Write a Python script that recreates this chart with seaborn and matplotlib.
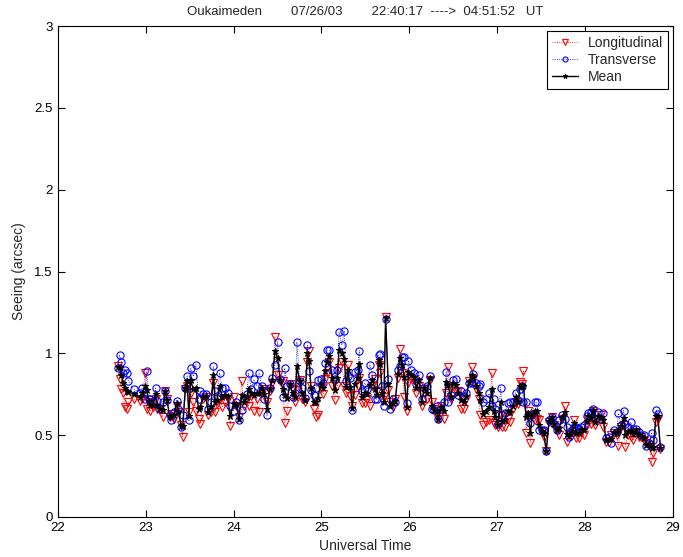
import numpy as np
import pandas as pd
import matplotlib
matplotlib.use("Agg")
import matplotlib.pyplot as plt
import seaborn as sns

# Universal time (hours, >24 = after midnight)
times = [22.68, 22.70, 22.72, 22.74, 22.76, 22.78, 22.80, 22.86, 22.93, 22.96,
         22.99, 23.01, 23.03, 23.05, 23.08, 23.11, 23.13, 23.16, 23.19, 23.22,
         23.24, 23.27, 23.29, 23.32, 23.35, 23.37, 23.40, 23.42, 23.45, 23.47,
         23.49, 23.51, 23.54, 23.57, 23.60, 23.62, 23.65, 23.68, 23.71, 23.74,
         23.77, 23.79, 23.81, 23.84, 23.87, 23.90, 23.93, 23.96, 24.00, 24.03,
         24.06, 24.09, 24.12, 24.15, 24.17, 24.20, 24.23, 24.26, 24.29, 24.32,
         24.35, 24.38, 24.41, 24.44, 24.47, 24.50, 24.53, 24.56, 24.58, 24.61,
         24.64, 24.67, 24.70, 24.72, 24.75, 24.78, 24.81, 24.84, 24.86, 24.88,
         24.91, 24.94, 24.96, 24.99, 25.02, 25.04, 25.06, 25.09, 25.12, 25.15,
         25.18, 25.20, 25.23, 25.26, 25.28, 25.30, 25.33, 25.35, 25.38, 25.41,
         25.43, 25.46, 25.49, 25.52, 25.55, 25.58, 25.61, 25.63, 25.65, 25.67,
         25.69, 25.71, 25.73, 25.76, 25.78, 25.81, 25.84, 25.87, 25.89, 25.92,
         25.94, 25.97, 25.99, 26.02, 26.05, 26.08, 26.11, 26.14, 26.17, 26.20,
         26.23, 26.26, 26.28, 26.31, 26.33, 26.36, 26.39, 26.42, 26.44, 26.47,
         26.50, 26.53, 26.56, 26.59, 26.62, 26.65, 26.68, 26.71, 26.73, 26.76,
         26.79, 26.81, 26.84, 26.87, 26.91, 26.94, 26.96, 26.98, 27.01, 27.04,
         27.06, 27.09, 27.12, 27.15, 27.18, 27.21, 27.24, 27.26, 27.28, 27.30,
         27.33, 27.35, 27.38, 27.40, 27.43, 27.45, 27.48, 27.51, 27.53, 27.56,
         27.59, 27.62, 27.65, 27.68, 27.71, 27.74, 27.77, 27.80, 27.82, 27.85,
         27.88, 27.90, 27.93, 27.96, 27.99, 28.02, 28.04, 28.07, 28.09, 28.12,
         28.15, 28.18, 28.21, 28.24, 28.27, 28.30, 28.33, 28.36, 28.38, 28.41,
         28.44, 28.46, 28.49, 28.52, 28.55, 28.58, 28.61, 28.64, 28.67, 28.70,
         28.73, 28.76, 28.78, 28.81, 28.83, 28.86]

longitudinal = [0.92, 0.84, 0.78, 0.76, 0.67, 0.66, 0.70, 0.72, 0.71, 0.72,
                0.88, 0.66, 0.70, 0.65, 0.67, 0.72, 0.66, 0.66, 0.61, 0.77,
                0.72, 0.61, 0.63, 0.60, 0.68, 0.64, 0.56, 0.49, 0.78, 0.80,
                0.64, 0.76, 0.70, 0.65, 0.60, 0.57, 0.72, 0.73, 0.62, 0.64,
                0.82, 0.64, 0.69, 0.72, 0.67, 0.70, 0.72, 0.556, 0.73, 0.68,
                0.61, 0.83, 0.68, 0.72, 0.68, 0.74, 0.65, 0.72, 0.64, 0.77,
                0.78, 0.70, 0.77, 0.82, 1.10, 0.87, 0.83, 0.83, 0.575, 0.65,
                0.81, 0.78, 0.70, 0.775, 0.835, 0.72, 0.70, 0.95, 1.015, 0.80,
                0.66, 0.61, 0.62, 0.79, 0.75, 0.84, 0.88, 0.95, 0.80, 0.715,
                0.80, 0.91, 0.95, 0.80, 0.76, 0.93, 0.74, 0.68, 0.745, 0.80,
                0.85, 0.695, 0.695, 0.72, 0.68, 0.80, 0.84, 0.77, 0.93, 0.88,
                0.715, 0.73, 1.22, 0.775, 0.70, 0.67, 0.72, 0.85, 1.024, 0.88,
                0.735, 0.65, 0.82, 0.84, 0.835, 0.76, 0.80, 0.68, 0.78, 0.72,
                0.835, 0.70, 0.66, 0.62, 0.60, 0.68, 0.60, 0.76, 0.918, 0.72,
                0.80, 0.77, 0.77, 0.66, 0.66, 0.72, 0.83, 0.918, 0.84, 0.78,
                0.72, 0.62, 0.56, 0.58, 0.59, 0.88, 0.576, 0.56, 0.55, 0.62,
                0.55, 0.548, 0.60, 0.58, 0.66, 0.70, 0.69, 0.826, 0.81, 0.894,
                0.515, 0.65, 0.454, 0.62, 0.59, 0.60, 0.592, 0.52, 0.49, 0.40,
                0.58, 0.612, 0.56, 0.53, 0.50, 0.60, 0.678, 0.46, 0.50, 0.52,
                0.592, 0.48, 0.48, 0.52, 0.50, 0.56, 0.60, 0.57, 0.645, 0.56,
                0.59, 0.62, 0.55, 0.46, 0.46, 0.50, 0.51, 0.50, 0.434, 0.55,
                0.56, 0.43, 0.50, 0.487, 0.47, 0.52, 0.49, 0.49, 0.47, 0.45,
                0.44, 0.338, 0.39, 0.58, 0.60, 0.415]

transverse = [0.91, 0.99, 0.95, 0.88, 0.90, 0.88, 0.83, 0.78, 0.76, 0.79,
              0.72, 0.89, 0.72, 0.72, 0.70, 0.785, 0.71, 0.66, 0.70, 0.77,
              0.715, 0.62, 0.59, 0.64, 0.71, 0.66, 0.55, 0.62, 0.79, 0.86,
              0.59, 0.91, 0.86, 0.93, 0.72, 0.77, 0.75, 0.75, 0.66, 0.70,
              0.92, 0.77, 0.74, 0.88, 0.79, 0.79, 0.76, 0.68, 0.65, 0.70,
              0.59, 0.655, 0.72, 0.75, 0.88, 0.78, 0.84, 0.80, 0.88, 0.80,
              0.72, 0.62, 0.79, 0.85, 0.93, 1.07, 0.84, 0.73, 0.91, 0.80,
              0.81, 0.73, 0.76, 1.07, 0.83, 0.79, 0.725, 1.05, 0.89, 0.775,
              0.745, 0.79, 0.835, 0.84, 0.82, 0.94, 1.02, 1.02, 0.90, 0.84,
              0.90, 1.13, 1.05, 1.136, 0.83, 0.86, 0.85, 0.654, 0.886, 0.90,
              1.016, 0.77, 0.82, 0.78, 0.93, 0.87, 0.72, 0.72, 0.99, 0.995,
              0.80, 0.68, 1.21, 0.846, 0.66, 0.72, 0.70, 0.90, 0.92, 0.98,
              0.98, 0.695, 0.955, 0.90, 0.88, 0.81, 0.87, 0.72, 0.79, 0.80,
              0.86, 0.66, 0.653, 0.68, 0.597, 0.66, 0.70, 0.886, 0.70, 0.745,
              0.836, 0.84, 0.746, 0.77, 0.74, 0.76, 0.82, 0.82, 0.875, 0.82,
              0.80, 0.81, 0.70, 0.72, 0.755, 0.68, 0.72, 0.66, 0.57, 0.79,
              0.625, 0.633, 0.694, 0.70, 0.70, 0.76, 0.714, 0.78, 0.80, 0.705,
              0.705, 0.62, 0.576, 0.63, 0.70, 0.70, 0.53, 0.53, 0.53, 0.405,
              0.592, 0.612, 0.57, 0.53, 0.592, 0.62, 0.60, 0.55, 0.49, 0.53,
              0.55, 0.55, 0.54, 0.55, 0.56, 0.614, 0.633, 0.64, 0.657, 0.60,
              0.64, 0.60, 0.633, 0.48, 0.49, 0.45, 0.53, 0.52, 0.633, 0.56,
              0.65, 0.57, 0.55, 0.58, 0.54, 0.54, 0.52, 0.50, 0.50, 0.434,
              0.45, 0.51, 0.47, 0.654, 0.63, 0.425]

mean_seeing = [(a + b) / 2 for a, b in zip(longitudinal, transverse)]

df = pd.DataFrame({"time": times, "long": longitudinal,
                   "trans": transverse, "mean": mean_seeing})

sns.set_theme(style="white")
plt.rcParams["font.family"] = ["Liberation Sans", "DejaVu Sans"]

fig = plt.figure(figsize=(6.83, 5.57), dpi=100)
ax = fig.add_axes([0.085, 0.072, 0.900, 0.881])

sns.lineplot(data=df, x="time", y="long", ax=ax, sort=False, estimator=None,
             color="red", linestyle=":", linewidth=0.6, marker="v",
             markersize=5.5, markerfacecolor="none", markeredgecolor="red",
             markeredgewidth=0.8, label="Longitudinal")
sns.lineplot(data=df, x="time", y="trans", ax=ax, sort=False, estimator=None,
             color="blue", linestyle=":", linewidth=0.6, marker="o",
             markersize=5.2, markerfacecolor="none", markeredgecolor="blue",
             markeredgewidth=0.8, label="Transverse")
sns.lineplot(data=df, x="time", y="mean", ax=ax, sort=False, estimator=None,
             color="black", linestyle="-", linewidth=1.0, marker="*",
             markersize=5, markerfacecolor="black", markeredgecolor="black",
             label="Mean")

ax.set_xlim(22, 29)
ax.set_ylim(0, 3)
ax.set_xticks([22, 23, 24, 25, 26, 27, 28, 29])
ax.set_yticks([0, 0.5, 1, 1.5, 2, 2.5, 3])
ax.set_yticklabels(["0", "0.5", "1", "1.5", "2", "2.5", "3"])
ax.tick_params(direction="in", length=5, width=0.8, top=True, right=True,
               bottom=True, left=True, labelsize=9.5, colors="black", pad=4)
for s in ax.spines.values():
    s.set_color("black")
    s.set_linewidth(0.8)
ax.set_xlabel("Universal Time", fontsize=10, labelpad=3)
ax.set_ylabel("Seeing (arcsec)", fontsize=10, labelpad=6)
ax.set_title("Oukaimeden        07/26/03        22:40:17  ---->  04:51:52   UT",
             fontsize=9.5, pad=8)

leg = ax.legend(loc="upper right", fontsize=10, frameon=True, fancybox=False,
                handlelength=1.9, borderpad=0.35, labelspacing=0.22,
                handletextpad=0.7, borderaxespad=0.35, markerscale=0.7)
leg.get_frame().set_edgecolor("black")
leg.get_frame().set_linewidth(0.8)
leg.get_frame().set_alpha(1)

fig.savefig("out.png", dpi=100)
